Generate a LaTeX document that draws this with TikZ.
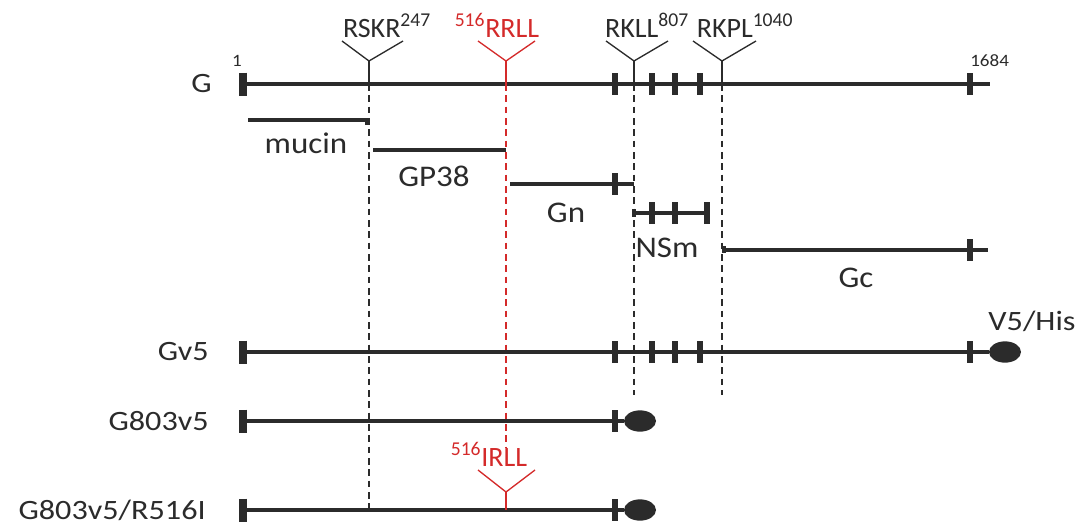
\documentclass[tikz,border=0pt]{standalone}
\usepackage{fontspec}
\setmainfont{Carlito}
\usetikzlibrary{shapes.geometric}
\definecolor{ink}{HTML}{2B2B2B}
\definecolor{redc}{HTML}{D42A2A}
\newcommand\tickbar[2]{\draw[tk] (#1,#2-11) -- (#1,#2+11);}
\newcommand\startbar[1]{\draw[sb] (243,#1-11.5) -- (243,#1+11.5);}
\begin{document}
\begin{tikzpicture}[x=0.75pt,y=-0.75pt,
  mainln/.style={line width=3.4pt,draw=ink},
  subln/.style={line width=2.6pt,draw=ink},
  tk/.style={line width=4.5pt,draw=ink},
  sb/.style={line width=6pt,draw=ink},
  vee/.style={line width=1pt,draw=ink},
  redvee/.style={line width=1pt,draw=redc},
  dsh/.style={line width=0.8pt,draw=ink,dash pattern=on 5pt off 3.5pt},
  rdsh/.style={line width=0.8pt,draw=redc,dash pattern=on 5pt off 3.5pt},
  lab/.style={font=\fontsize{21}{24}\selectfont,text=ink,inner sep=0pt,xscale=1.15},
  site/.style={font=\fontsize{21}{24}\selectfont,text=ink,inner sep=0pt,anchor=base},
  sublab/.style={font=\fontsize{22.5}{26}\selectfont,text=ink,inner sep=0pt,xscale=1.1},
  small/.style={font=\fontsize{13}{15}\selectfont,text=ink,inner sep=0pt,xscale=1.1},
  tag/.style={ellipse,fill=ink,minimum width=24pt,minimum height=16pt,inner sep=0pt}]
\useasboundingbox (0,0) rectangle (1082,525);

% ---- main G line
\coordinate (g0) at (243,84);
\coordinate (g1) at (990,84);
\draw[mainln] (g0) -- (g1);
\startbar{84}
\foreach \x in {615,652,675,700,970} {\tickbar{\x}{84}}
\node[lab,anchor=east] (lG) at (212,84) {G};
\node[small] (n1) at (237,61) {1};
\node[small,anchor=west] (n1684) at (970,61) {1684};

% ---- cleavage sites (vees)
\coordinate (s1) at (369,61); \coordinate (s1b) at (369,84);
\draw[vee] (342,41) -- (s1) -- (403,41); \draw[vee] (s1) -- (s1b);
\node[site] (lrskr) at (387,37) {RSKR\textsuperscript{247}};

\coordinate (s2) at (506,61); \coordinate (s2b) at (506,84);
\draw[redvee] (478,41) -- (s2) -- (535,41); \draw[redvee] (s2) -- (s2b);
\node[site,text=redc] (lrrll) at (497,37) {\textsuperscript{516}RRLL};

\coordinate (s3) at (634,61); \coordinate (s3b) at (634,84);
\draw[vee] (606,41) -- (s3) -- (668,41); \draw[vee] (s3) -- (s3b);
\node[site] (lrkll) at (647,37) {RKLL\textsuperscript{807}};

\coordinate (s4) at (722,61); \coordinate (s4b) at (722,84);
\draw[vee] (693,41) -- (s4) -- (756,41); \draw[vee] (s4) -- (s4b);
\node[site] (lrkpl) at (745,37) {RKPL\textsuperscript{1040}};

% ---- dashed guides
\coordinate (d1) at (369,510);
\coordinate (d2) at (506,447);
\coordinate (d3) at (634,395);
\coordinate (d4) at (722,395);
\draw[dsh] (s1b) -- (d1);
\draw[rdsh] (s2b) -- (d2);
\draw[dsh] (s3b) -- (d3);
\draw[dsh] (s4b) -- (d4);

% ---- fragments
\draw[subln] (248,120) -- (367,120) -- (367,125);
\node[sublab] (lmucin) at (306,143) {mucin};
\draw[subln] (373,150) -- (506,150);
\node[sublab] (lgp38) at (434,176) {GP38};
\draw[subln] (510,184) -- (634,184);
\tickbar{615}{184}
\node[sublab] (lgn) at (566,213) {Gn};
\draw[subln] (634,213) -- (708,213);
\draw[subln] (634,209) -- (634,217);
\foreach \x in {652,675,707} {\tickbar{\x}{213}}
\node[sublab] (lnsm) at (667,248) {NSm};
\draw[subln] (725,250) -- (988,250);
\draw[subln] (724,246) -- (724,253);
\tickbar{970}{250}
\node[sublab] (lgc) at (856,278) {Gc};

% ---- Gv5
\coordinate (v0) at (243,352);
\node[tag] (tv) at (1005,352) {};
\draw[mainln] (v0) -- (tv);
\startbar{352}
\foreach \x in {615,652,675,700,970} {\tickbar{\x}{352}}
\node[lab,anchor=east] (lgv5) at (209,352) {Gv5};
\node[lab] (lv5his) at (1032,321) {V5/His};

% ---- G803v5
\coordinate (w0) at (243,421);
\node[tag] (tw) at (640,421) {};
\draw[mainln] (w0) -- (tw);
\startbar{421}
\tickbar{615}{421}
\node[lab,anchor=east] (lg803) at (209,421) {G803v5};

% ---- G803v5/R516I
\coordinate (u0) at (243,510);
\node[tag] (tu) at (640,510) {};
\draw[mainln] (u0) -- (tu);
\startbar{510}
\tickbar{615}{510}
\node[lab,anchor=east] (lg803r) at (206,510) {G803v5/R516I};
\coordinate (s5) at (506,492); \coordinate (s5b) at (506,510);
\draw[redvee] (478,470) -- (s5) -- (535,470); \draw[redvee] (s5) -- (s5b);
\node[site,text=redc] (lirll) at (489,466) {\textsuperscript{516}IRLL};
\end{tikzpicture}
\end{document}
